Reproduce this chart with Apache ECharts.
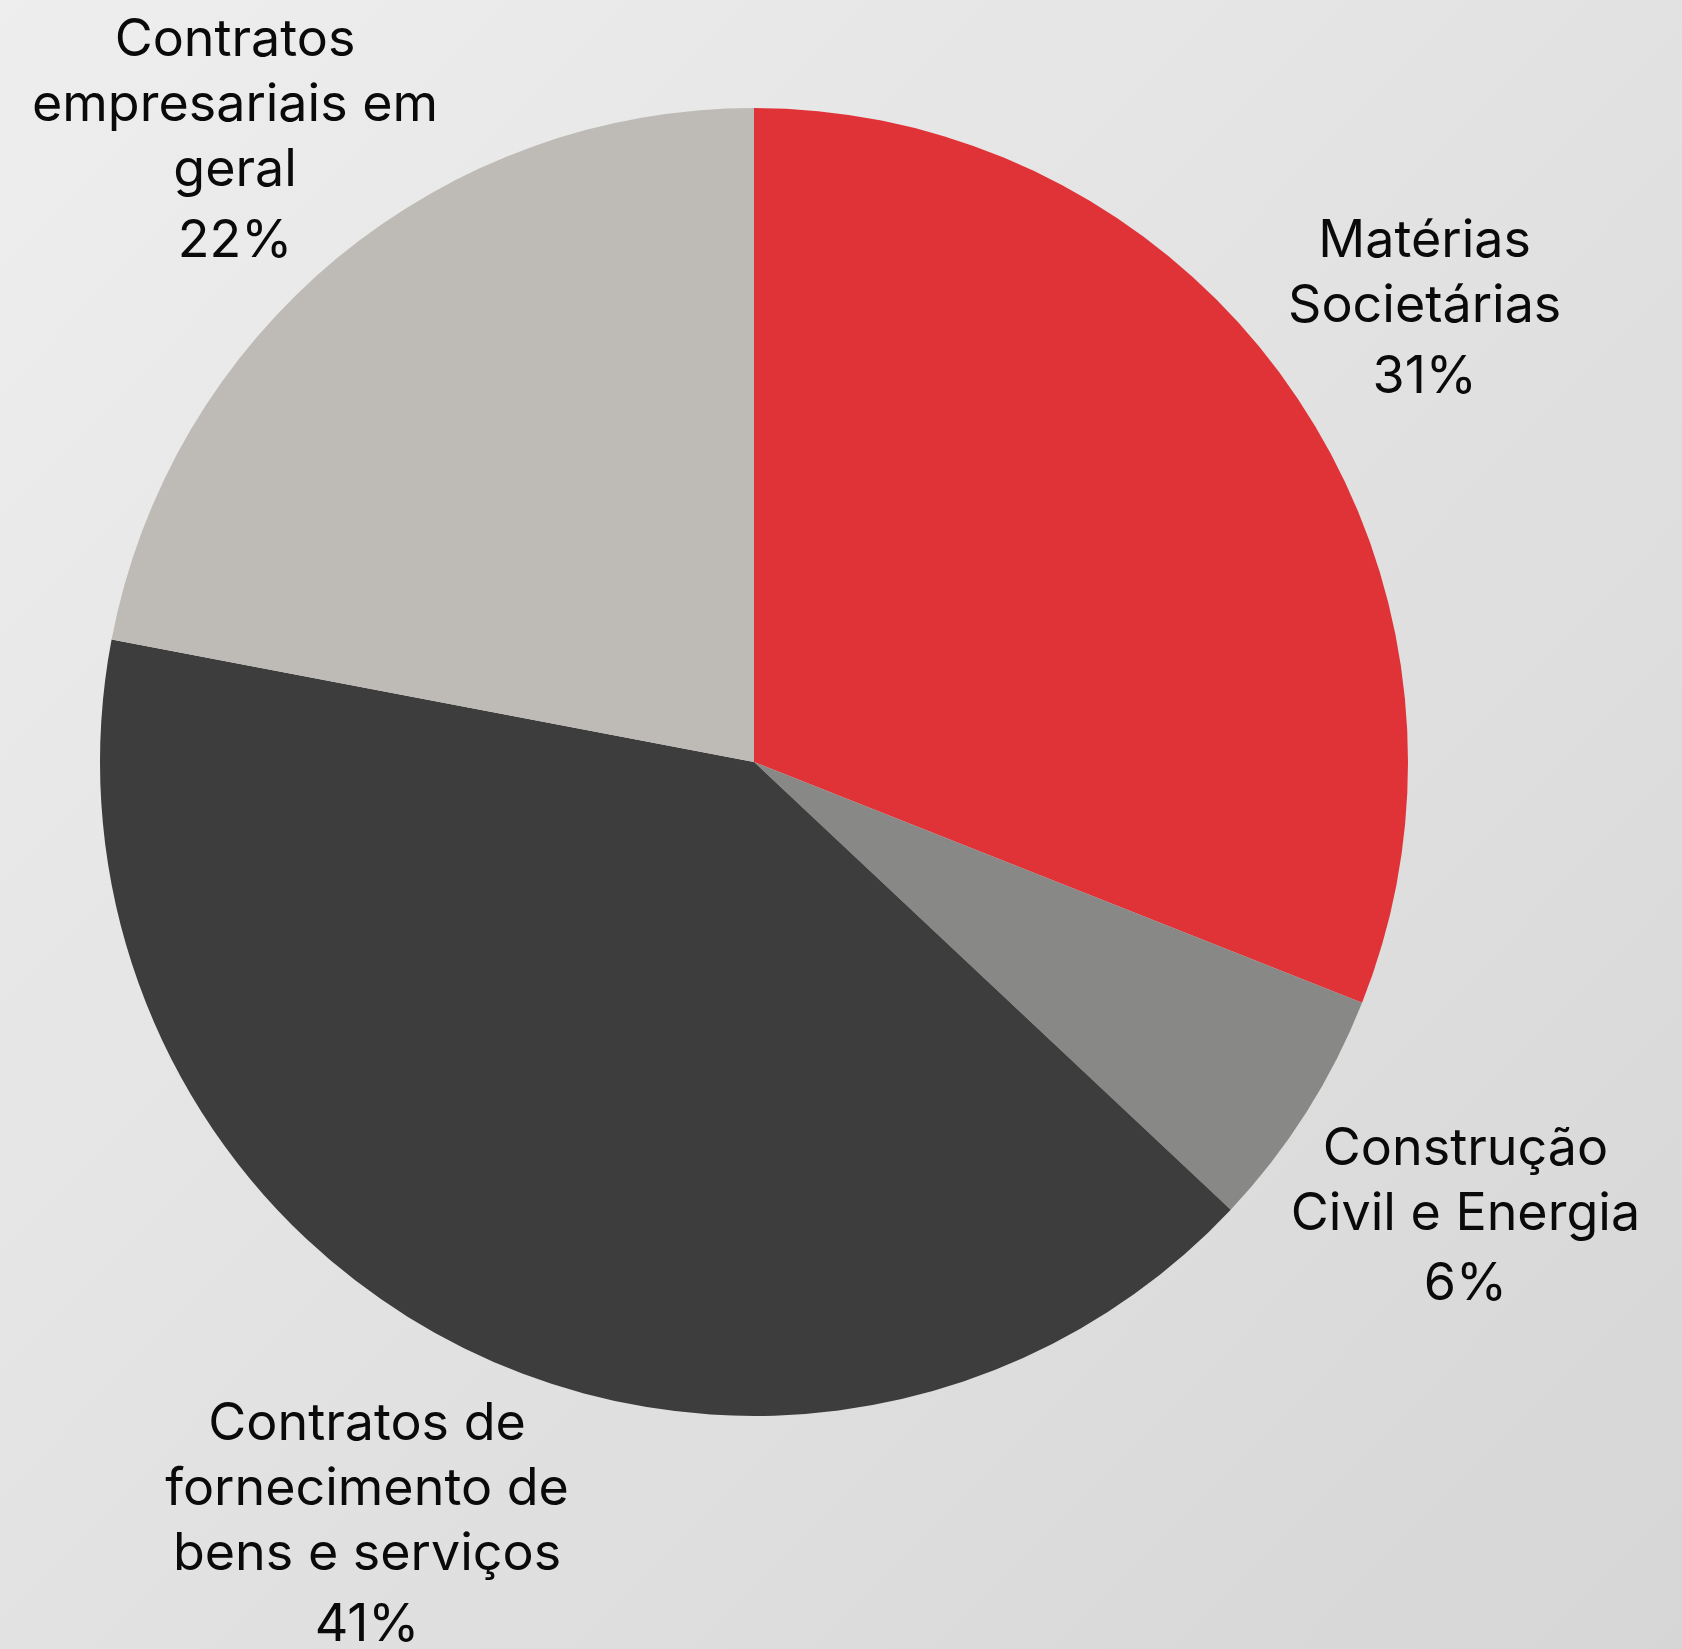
<!DOCTYPE html>
<html>
<head>
<meta charset="utf-8">
<script src="https://cdn.jsdelivr.net/npm/echarts@6/dist/echarts.min.js"></script>
<style>
  html, body { margin: 0; padding: 0; }
  #chart { width: 1682px; height: 1649px; }
</style>
</head>
<body>
<div id="chart"></div>
<script>
// dados do gráfico
var categorias = ['Matérias\nSocietárias', 'Construção\nCivil e Energia', 'Contratos de\nfornecimento de\nbens e serviços', 'Contratos\nempresariais em\ngeral'];
var valores = [31, 6, 41, 22];
var cores = ['#e03338', '#888886', '#3d3d3d', '#bebbb6'];

var dom = document.getElementById('chart');
var myChart = echarts.init(dom);

var cx = 754, cy = 762, raio = 654;
var total = valores.reduce(function(a, b){ return a + b; }, 0);

// posiciona o rótulo fora da fatia, no ângulo médio
function posRotulo(params){
    var i = params.dataIndex;
    var antes = 0;
    for (var k = 0; k < i; k++) antes += valores[k];
    var meio = (antes + valores[i] / 2) / total * Math.PI * 2;
    var sx = Math.sin(meio), sy = -Math.cos(meio);
    var w = params.labelRect.width, h = params.labelRect.height;
    var proj = Math.abs(sx) * w / 2 + Math.abs(sy) * h / 2;
    var d = raio + proj - 14;
    var x = cx + sx * d;
    var y = cy + sy * d + 6;
    if (y - h / 2 < 8) y = h / 2 + 8;
    if (x - w / 2 < 32) x = w / 2 + 32;
    return { x: x, y: y, align: 'center', verticalAlign: 'middle' };
}

var option = {
    backgroundColor: {
        type: 'linear', x: 0, y: 0, x2: 1, y2: 1,
        colorStops: [
            { offset: 0, color: '#eeeeee' },
            { offset: 1, color: '#d6d6d6' }
        ]
    },
    animation: false,
    series: [
        {
            type: 'pie',
            center: [cx, cy],
            radius: raio,
            startAngle: 90,
            clockwise: true,
            avoidLabelOverlap: false,
            itemStyle: { borderWidth: 0 },
            label: {
                show: true,
                position: 'inside',
                formatter: '{b}\n{p|{c}%}',
                fontFamily: 'Inter',
                fontSize: 52,
                lineHeight: 65,
                color: '#0a0a0a',
                rich: {
                    p: { fontFamily: 'Inter', fontSize: 52, lineHeight: 76, color: '#0a0a0a' }
                }
            },
            labelLine: { show: false },
            labelLayout: posRotulo,
            data: categorias.map(function(n, i){
                return { name: n, value: valores[i], itemStyle: { color: cores[i] } };
            })
        }
    ]
};
myChart.setOption(option);
</script>
</body>
</html>
